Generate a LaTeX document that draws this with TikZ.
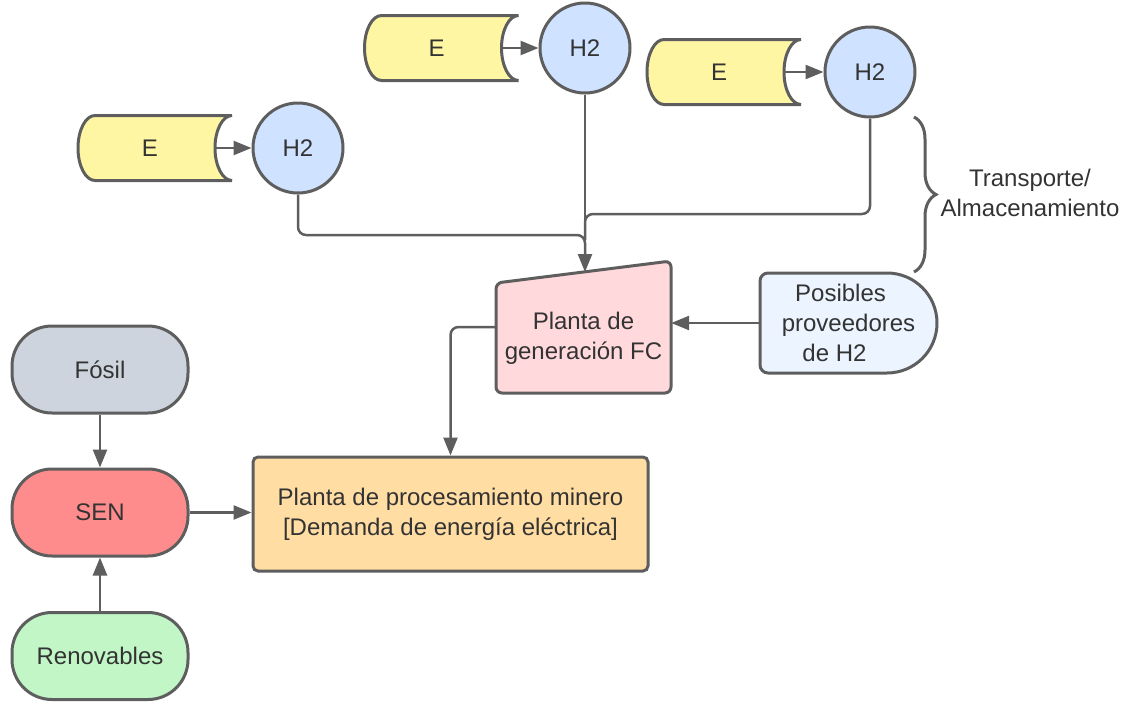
\documentclass[tikz,border=0pt]{standalone}
\usepackage{fontspec}
\setmainfont{Liberation Sans}
\usetikzlibrary{arrows.meta,decorations.pathreplacing,calc}
\definecolor{edge}{HTML}{5E5E5E}
\definecolor{ink}{HTML}{333333}
\definecolor{storeyellow}{HTML}{FFF6A3}
\definecolor{hblue}{HTML}{CFE2FF}
\definecolor{provblue}{HTML}{EBF4FF}
\definecolor{fcpink}{HTML}{FFD9DB}
\definecolor{boxor}{HTML}{FFDDA3}
\definecolor{fosilgray}{HTML}{CDD4DD}
\definecolor{senred}{HTML}{FF8C8C}
\definecolor{rengreen}{HTML}{C2F6C7}
\tikzset{
  outline/.style={draw=edge, line width=3pt},
  conn/.style={draw=edge, line width=2.5pt, rounded corners=8pt},
  arr/.style={conn, -{Triangle[length=18pt,width=14pt]}},
  txt/.style={text=ink, align=center, inner sep=0pt},
  term/.style={outline, rounded corners=40pt, minimum width=176pt, minimum height=87pt, txt},
  hcirc/.style={outline, circle, fill=hblue, minimum size=90pt, txt},
  % energy storage unit: convex left side, concave right side
  estore/.pic={
    \draw[outline, fill=storeyellow] (77,32.5) -- (-60,32.5)
      arc[start angle=90, end angle=270, x radius=17, y radius=32.5]
      -- (77,-32.5)
      arc[start angle=270, end angle=90, x radius=17, y radius=32.5] -- cycle;
    \node[txt] (-t) at (-5,0) {E};
    \coordinate (-out) at (60,0);
  }
}
\begin{document}
\begin{tikzpicture}[x=1pt, y=1pt, font=\fontsize{24}{30}\selectfont]
\useasboundingbox (0,0) rectangle (1128,-702);

% hydrogen production units
\pic (e1) at (155,-148) {estore};
\pic (e2) at (441.5,-48) {estore};
\pic (e3) at (724,-72) {estore};
\node[hcirc] (h1) at (298,-148) {H2};
\node[hcirc] (h2) at (585,-48) {H2};
\node[hcirc] (h3) at (870,-72) {H2};
\draw[arr] (e1-out) -- (h1);
\draw[arr] (e2-out) -- (h2);
\draw[arr] (e3-out) -- (h3);

% fuel cell plant
\draw[outline, fill=fcpink, rounded corners=6pt] (496,-283) -- (671,-261) -- (671,-393) -- (496,-393) -- cycle;
\node[txt, minimum width=175pt, minimum height=110pt] (fc) at (583.5,-338) {Planta de\\generación FC};
\coordinate (fctop) at (585,-272);

% hydrogen suppliers
\draw[outline, fill=provblue] (887,-273) -- (768,-273)
  arc[start angle=90, end angle=180, radius=8] -- (760,-365)
  arc[start angle=180, end angle=270, radius=8] -- (887,-373)
  arc[start angle=-90, end angle=90, radius=50] -- cycle;
\node[txt, minimum width=177pt, minimum height=100pt] (prov) at (848.5,-323)
  {Posibles\hspace*{16pt}\\proveedores\\de H2\hspace*{28pt}};

% transport / storage brace
\draw[outline, decorate, decoration={brace, amplitude=22pt}] (914,-117) -- (914,-272);
\node[txt] (ts) at (1030,-193) {Transporte/\\Almacenamiento};

% grid and mining plant
\node[term, fill=fosilgray] (fos) at (100,-369.5) {Fósil};
\node[term, fill=senred] (sen) at (100,-512.5) {SEN};
\node[term, fill=rengreen] (ren) at (100,-656) {Renovables};
\node[outline, fill=boxor, rounded corners=5pt, minimum width=395pt, minimum height=114pt, txt]
  (box) at (450.5,-514) {Planta de procesamiento minero\\{}[Demanda de energía eléctrica]};

% connectors
\draw[conn] (h1.south) |- (585,-235) -- (585,-255);
\draw[conn] (h3.south) |- (585,-214) -- (585,-240);
\draw[arr] (h2.south) -- (fctop);
\draw[arr] (prov.west) -- (prov.west -| fc.east);
\draw[arr] (fc.west |- 0,-327) -| (box.north);
\draw[arr] (fos) -- (sen);
\draw[arr] (ren) -- (sen);
\draw[arr] (sen.east) -- (sen.east -| box.west);
\end{tikzpicture}
\end{document}
